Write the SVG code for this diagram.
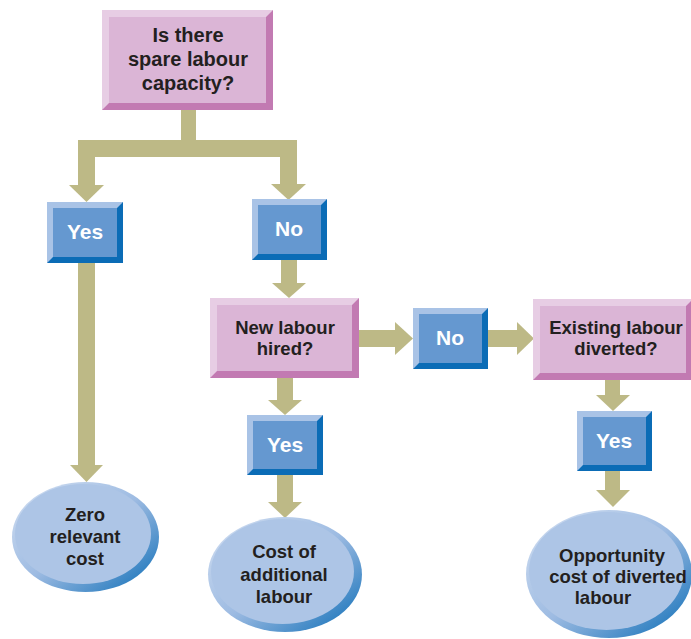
<svg xmlns="http://www.w3.org/2000/svg" width="691" height="639" viewBox="0 0 691 639">
  <defs>
    <linearGradient id="rim" x1="0" y1="0" x2="1" y2="1">
      <stop offset="0" stop-color="#d4e0f2"/>
      <stop offset="0.5" stop-color="#9dbbe2"/>
      <stop offset="1" stop-color="#0a6cb6"/>
    </linearGradient>
    <style>
      .link { fill: #bdb986; }
      .q-dark { fill: #c27ab2; }
      .q-light { fill: #e7cde4; }
      .q-face { fill: #dbb5d6; }
      .a-dark { fill: #0b6cb6; }
      .a-light { fill: #a9c3e6; }
      .a-face { fill: #6598d0; }
      .e-rim { fill: url(#rim); }
      .e-face { fill: #adc5e6; }
      .lbl { font-family: "Liberation Sans", Arial, sans-serif; font-weight: bold; text-anchor: middle; fill: #231f20; font-size: 18.5px; }
      .big { font-size: 20px; }
      .ans { font-family: "Liberation Sans", Arial, sans-serif; font-weight: bold; text-anchor: middle; fill: #ffffff; font-size: 21px; }
    </style>
  </defs>

  <!-- connectors -->
  <g id="connectors">
    <rect class="link" x="181" y="108" width="15" height="40"/>
    <rect class="link" x="78" y="140" width="219" height="17"/>
    <rect class="link" x="78" y="150" width="17" height="36"/>
    <polygon class="link" points="69,185 104,185 86.5,202"/>
    <rect class="link" x="280" y="150" width="17" height="35"/>
    <polygon class="link" points="271,184 306,184 288.5,200"/>

    <rect class="link" x="78" y="260" width="17" height="206"/>
    <polygon class="link" points="70,465 103,465 86.5,482"/>

    <rect class="link" x="281" y="258" width="16" height="27"/>
    <polygon class="link" points="272,283 306,283 289,298"/>

    <rect class="link" x="356" y="330" width="40" height="17"/>
    <polygon class="link" points="395,322 395,355 413,338.5"/>
    <rect class="link" x="486" y="330" width="32" height="17"/>
    <polygon class="link" points="517,322 517,355 534,338.5"/>

    <rect class="link" x="277" y="376" width="16" height="26"/>
    <polygon class="link" points="268,400 302,400 285,415"/>
    <rect class="link" x="277" y="473" width="16" height="30"/>
    <polygon class="link" points="268,502 302,502 285,518"/>

    <rect class="link" x="605" y="378" width="15" height="18"/>
    <polygon class="link" points="596,395 630,395 613,411"/>
    <rect class="link" x="605" y="469" width="15" height="22"/>
    <polygon class="link" points="596,490 630,490 613,507"/>
  </g>

  <!-- question: spare capacity -->
  <g id="q-spare">
    <rect class="q-dark" x="102" y="10" width="171" height="100"/>
    <polygon class="q-light" points="102,10 273,10 266,17 109,17 109,103 102,110"/>
    <rect class="q-face" x="109" y="17" width="157" height="86"/>
    <text class="lbl big" x="188" y="42">Is there</text>
    <text class="lbl big" x="188" y="66">spare labour</text>
    <text class="lbl big" x="188" y="90">capacity?</text>
  </g>

  <!-- answer: Yes (spare) -->
  <g id="a-yes1">
    <rect class="a-dark" x="47" y="202" width="76" height="61"/>
    <polygon class="a-light" points="47,202 123,202 117,208 53,208 53,257 47,263"/>
    <rect class="a-face" x="53" y="208" width="64" height="49"/>
    <text class="ans" x="85" y="239">Yes</text>
  </g>

  <!-- answer: No (spare) -->
  <g id="a-no1">
    <rect class="a-dark" x="252" y="199" width="75" height="61"/>
    <polygon class="a-light" points="252,199 327,199 321,205 258,205 258,254 252,260"/>
    <rect class="a-face" x="258" y="205" width="63" height="49"/>
    <text class="ans" x="289" y="236">No</text>
  </g>

  <!-- question: new labour -->
  <g id="q-new">
    <rect class="q-dark" x="210" y="298" width="149" height="80"/>
    <polygon class="q-light" points="210,298 359,298 352,305 217,305 217,371 210,378"/>
    <rect class="q-face" x="217" y="305" width="135" height="66"/>
    <text class="lbl" x="285" y="334">New labour</text>
    <text class="lbl" x="285" y="355">hired?</text>
  </g>

  <!-- answer: No (new labour) -->
  <g id="a-no2">
    <rect class="a-dark" x="413" y="308" width="75" height="61"/>
    <polygon class="a-light" points="413,308 488,308 482,314 419,314 419,363 413,369"/>
    <rect class="a-face" x="419" y="314" width="63" height="49"/>
    <text class="ans" x="450" y="345">No</text>
  </g>

  <!-- question: existing labour -->
  <g id="q-existing">
    <rect class="q-dark" x="533" y="299" width="160" height="81"/>
    <polygon class="q-light" points="533,299 693,299 686,306 540,306 540,373 533,380"/>
    <rect class="q-face" x="540" y="306" width="146" height="67"/>
    <text class="lbl" x="616" y="334">Existing labour</text>
    <text class="lbl" x="616" y="355">diverted?</text>
  </g>

  <!-- answer: Yes (new labour) -->
  <g id="a-yes2">
    <rect class="a-dark" x="247" y="415" width="76" height="60"/>
    <polygon class="a-light" points="247,415 323,415 317,421 253,421 253,469 247,475"/>
    <rect class="a-face" x="253" y="421" width="64" height="48"/>
    <text class="ans" x="285" y="452">Yes</text>
  </g>

  <!-- answer: Yes (existing labour) -->
  <g id="a-yes3">
    <rect class="a-dark" x="577" y="411" width="75" height="60"/>
    <polygon class="a-light" points="577,411 652,411 646,417 583,417 583,465 577,471"/>
    <rect class="a-face" x="583" y="417" width="63" height="48"/>
    <text class="ans" x="614" y="448">Yes</text>
  </g>

  <!-- outcome: zero relevant cost -->
  <g id="o-zero">
    <ellipse class="e-rim" cx="85.5" cy="537" rx="73.5" ry="55"/>
    <ellipse class="e-face" cx="83" cy="534" rx="68" ry="50"/>
    <text class="lbl" x="85" y="521">Zero</text>
    <text class="lbl" x="85" y="543">relevant</text>
    <text class="lbl" x="85" y="565">cost</text>
  </g>

  <!-- outcome: cost of additional labour -->
  <g id="o-additional">
    <ellipse class="e-rim" cx="285" cy="574.5" rx="77" ry="57.5"/>
    <ellipse class="e-face" cx="282.5" cy="571.5" rx="71.5" ry="52.5"/>
    <text class="lbl" x="284" y="558">Cost of</text>
    <text class="lbl" x="284" y="581">additional</text>
    <text class="lbl" x="284" y="603">labour</text>
  </g>

  <!-- outcome: opportunity cost -->
  <g id="o-opportunity">
    <ellipse class="e-rim" cx="609" cy="574" rx="83" ry="64"/>
    <ellipse class="e-face" cx="606.5" cy="571" rx="77.5" ry="59"/>
    <text class="lbl" x="612" y="562">Opportunity</text>
    <text class="lbl" x="618" y="583">cost of diverted</text>
    <text class="lbl" x="603" y="604">labour</text>
  </g>
</svg>
